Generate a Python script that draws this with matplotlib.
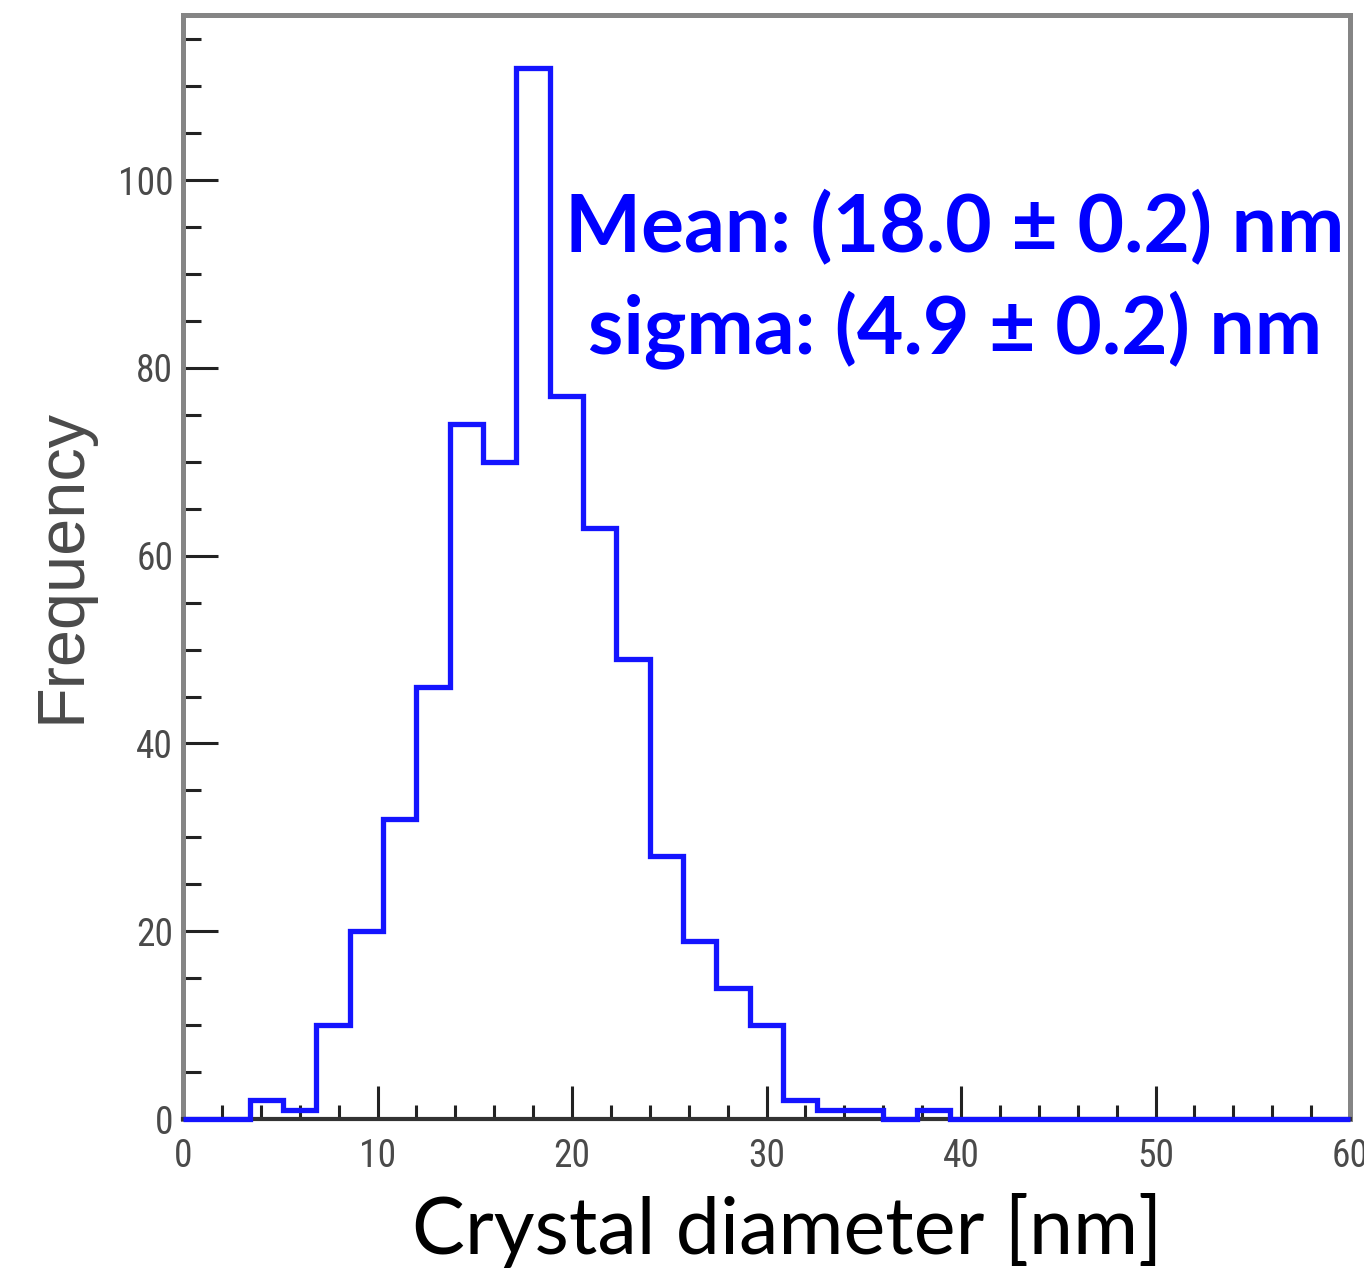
import numpy as np
import matplotlib
matplotlib.use("Agg")
import matplotlib.pyplot as plt
from matplotlib.ticker import MultipleLocator
from matplotlib import font_manager

# ---- data ----
bin_edges = np.linspace(0, 60, 36)  # 35 bins from 0 to 60 nm
counts = [0, 0, 2, 1, 10, 20, 32, 46, 74, 70, 112, 77, 63, 49, 28, 19, 14, 10,
          2, 1, 1, 0, 1, 0, 0, 0, 0, 0, 0, 0, 0, 0, 0, 0, 0]
x_ticks = [0, 10, 20, 30, 40, 50, 60]
y_ticks = [0, 20, 40, 60, 80, 100]
x_label = "Crystal diameter [nm]"
y_label = "Frequency"
stat_lines = ["Mean: (18.0 \u00b1 0.2) nm", "sigma: (4.9 \u00b1 0.2) nm"]

# pick a narrow font if one is installed
installed = {f.name for f in font_manager.fontManager.ttflist}
narrow_candidates = ["Liberation Sans Narrow", "DejaVu Sans Condensed",
                     "Roboto Condensed", "Open Sans Condensed", "Arial Narrow"]
narrow = [n for n in narrow_candidates if n in installed] + ["DejaVu Sans"]

W, H = 1364, 1272
AX_L, AX_R, AX_T, AX_B = 183, 1350, 15, 1119
fig = plt.figure(figsize=(W / 100, H / 100), dpi=100)
ax = fig.add_axes([AX_L / W, 1 - AX_B / H, (AX_R - AX_L) / W, (AX_B - AX_T) / H])

ax.stairs(counts, bin_edges, baseline=None, color="#1414ff", linewidth=3.8,
          clip_on=False, zorder=5)

ax.set_xlim(0, 60)
ax.set_ylim(0, 117.6)

tick_color = "#222222"
label_gray = "#4a4a4a"

ax.xaxis.set_major_locator(MultipleLocator(10))
ax.xaxis.set_minor_locator(MultipleLocator(2))
ax.yaxis.set_major_locator(MultipleLocator(20))
ax.yaxis.set_minor_locator(MultipleLocator(5))
ax.set_xticks(x_ticks)
ax.set_yticks(y_ticks)

ax.tick_params(axis="both", which="both", direction="in", color=tick_color,
               width=2.2, top=False, right=False)
ax.tick_params(axis="y", which="major", length=25, pad=7)
ax.tick_params(axis="y", which="minor", length=13)
ax.tick_params(axis="x", which="major", length=24, pad=14)
ax.tick_params(axis="x", which="minor", length=10)

for lab in ax.get_xticklabels() + ax.get_yticklabels():
    lab.set_fontfamily(narrow)
    lab.set_fontstretch("condensed")
    lab.set_fontsize(27)
    lab.set_color(label_gray)

for side in ["left", "top", "right"]:
    ax.spines[side].set_color("#858585")
    ax.spines[side].set_linewidth(3.6)
ax.spines["bottom"].set_color("#333333")
ax.spines["bottom"].set_linewidth(3.0)

hspan = AX_R - AX_L
vspan = AX_B - AX_T

ax.set_xlabel(x_label, fontfamily=["Lato", "DejaVu Sans"], fontsize=57, color="black")
ax.xaxis.set_label_coords((787 - AX_L) / hspan, (AX_B - 1230) / vspan)
ax.xaxis.label.set_va("center")

ax.set_ylabel(y_label, fontfamily=["Liberation Sans", "DejaVu Sans"], fontsize=48,
              color=label_gray)
ax.yaxis.set_label_coords((63 - AX_L) / hspan, (AX_B - 565) / vspan)
ax.yaxis.label.set_va("center")

cx = (955 - AX_L) / hspan
for txt, ypix in zip(stat_lines, [228, 330]):
    ax.text(cx, (AX_B - ypix) / vspan, txt, transform=ax.transAxes,
            ha="center", va="center", fontfamily=["Lato", "DejaVu Sans"],
            fontweight="bold", fontsize=58, color="#0000ff")

fig.savefig("out.png", dpi=100)
